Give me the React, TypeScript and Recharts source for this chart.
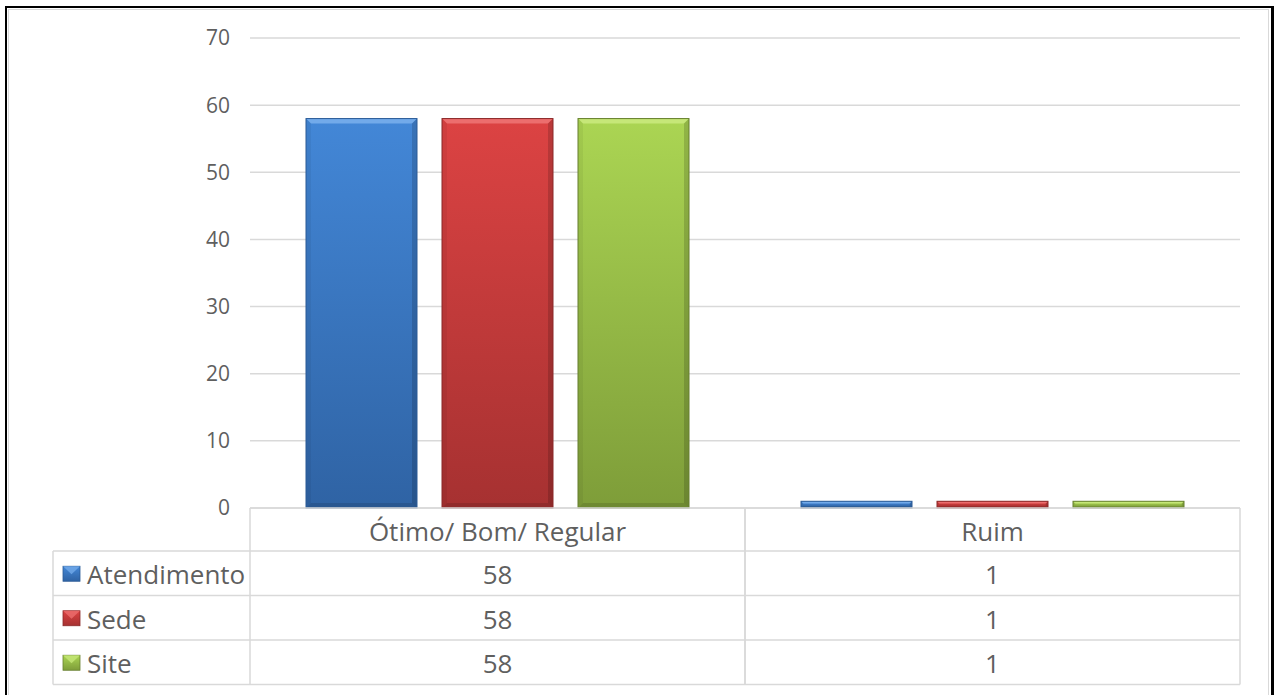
import React from 'react';
import { BarChart, Bar, XAxis, YAxis, CartesianGrid } from 'recharts';

// dados
const categories = ['Ótimo/ Bom/ Regular', 'Ruim'];
const atendimento = [58, 1];
const sede = [58, 1];
const site = [58, 1];
const yTicks = [0, 10, 20, 30, 40, 50, 60, 70];

const seriesList = [
  { key: 'atendimento', name: 'Atendimento', values: atendimento },
  { key: 'sede', name: 'Sede', values: sede },
  { key: 'site', name: 'Site', values: site },
];

const data = categories.map((cat, i) => ({
  cat,
  atendimento: atendimento[i],
  sede: sede[i],
  site: site[i],
}));

const W = 1276;
const H = 695;
const PLOT_LEFT = 250;
const PLOT_RIGHT = 1240;
const PLOT_TOP = 38;
const PLOT_BOTTOM = 508;
const HEADER_H = 43;
const ROW_H = 44.5;
const LEGEND_LEFT = 53;
const FONT = '"Open Sans", sans-serif';
const TEXT = '#5f5f5f';
const LINE = '#d9d9d9';

const palette: Record<string, { top: string; bottom: string; light: string; dark: string }> = {
  atendimento: { top: '#4387d7', bottom: '#2f63a4', light: '#72aaea', dark: '#2a5a96' },
  sede: { top: '#dc4343', bottom: '#a63131', light: '#ec6e6e', dark: '#8a2828' },
  site: { top: '#abd553', bottom: '#7e9d39', light: '#c6e778', dark: '#667f2e' },
};

const BevelBar = (props: any) => {
  const { x, y, width, height, seriesKey } = props;
  if (!height || height <= 0) return null;
  const c = palette[seriesKey];
  const b = Math.min(5, height / 3, width / 3);
  return (
    <g>
      <rect x={x} y={y} width={width} height={height} fill={`url(#grad-${seriesKey})`} />
      <polygon
        points={`${x},${y} ${x + width},${y} ${x + width - b},${y + b} ${x + b},${y + b}`}
        fill={c.light}
      />
      <polygon
        points={`${x},${y} ${x + b},${y + b} ${x + b},${y + height - b} ${x},${y + height}`}
        fill="rgba(0,0,0,0.05)"
      />
      <polygon
        points={`${x + width},${y} ${x + width - b},${y + b} ${x + width - b},${y + height - b} ${x + width},${y + height}`}
        fill="rgba(0,0,0,0.15)"
      />
      <polygon
        points={`${x},${y + height} ${x + b},${y + height - b} ${x + width - b},${y + height - b} ${x + width},${y + height}`}
        fill="rgba(0,0,0,0.12)"
      />
      <rect x={x} y={y} width={width} height={height} fill="none" stroke={c.dark} strokeWidth={1} />
    </g>
  );
};

// tabela de dados desenhada abaixo de cada categoria
const TableTick = (props: any) => {
  const { x, y, payload, index } = props;
  const band = (PLOT_RIGHT - PLOT_LEFT) / categories.length;
  const left = x - band / 2;
  const right = x + band / 2;
  const bottom = y + HEADER_H + ROW_H * seriesList.length;
  return (
    <g fontFamily={FONT} fill={TEXT}>
      <line x1={left} x2={right} y1={y} y2={y} stroke={LINE} strokeWidth={1.5} />
      <line x1={left} x2={left} y1={y} y2={bottom} stroke={LINE} strokeWidth={1.5} />
      <line x1={right} x2={right} y1={y} y2={bottom} stroke={LINE} strokeWidth={1.5} />
      <text x={x} y={y + HEADER_H / 2 + 1} textAnchor="middle" dominantBaseline="central" fontSize={26}>
        {payload.value}
      </text>
      {seriesList.map((s, r) => {
        const rowTop = y + HEADER_H + ROW_H * r;
        return (
          <g key={s.key}>
            <line x1={left} x2={right} y1={rowTop} y2={rowTop} stroke={LINE} strokeWidth={1.5} />
            <text x={x} y={rowTop + ROW_H / 2 + 1} textAnchor="middle" dominantBaseline="central" fontSize={26}>
              {s.values[index]}
            </text>
          </g>
        );
      })}
      <line x1={index === 0 ? LEGEND_LEFT : left} x2={right} y1={bottom} y2={bottom} stroke={LINE} strokeWidth={1.5} />
      {index === 0 && (
        <g>
          <line x1={LEGEND_LEFT} x2={LEGEND_LEFT} y1={y + HEADER_H} y2={bottom} stroke={LINE} strokeWidth={1.5} />
          {seriesList.map((s, r) => {
            const rowTop = y + HEADER_H + ROW_H * r;
            const c = palette[s.key];
            const ky = rowTop + ROW_H / 2 - 7;
            return (
              <g key={s.key}>
                <line x1={LEGEND_LEFT} x2={left} y1={rowTop} y2={rowTop} stroke={LINE} strokeWidth={1.5} />
                <rect x={LEGEND_LEFT + 10} y={ky} width={17} height={15} fill={`url(#grad-${s.key})`} stroke={c.dark} strokeWidth={0.8} />
                <polygon
                  points={`${LEGEND_LEFT + 10},${ky} ${LEGEND_LEFT + 27},${ky} ${LEGEND_LEFT + 18.5},${ky + 8}`}
                  fill={c.light}
                  opacity={0.8}
                />
                <text x={LEGEND_LEFT + 34} y={rowTop + ROW_H / 2 + 1} dominantBaseline="central" fontSize={26}>
                  {s.name}
                </text>
              </g>
            );
          })}
        </g>
      )}
    </g>
  );
};

export default function App() {
  return (
    <div style={{ position: 'absolute', left: 0, top: 0, width: W, height: H, overflow: 'hidden', background: '#fff' }}>
      {/* moldura externa */}
      <div
        style={{
          position: 'absolute',
          left: 5,
          top: 6,
          width: 1269,
          height: 720,
          boxSizing: 'border-box',
          borderLeft: '2px solid #000',
          borderTop: '2px solid #000',
          borderRight: '3px solid #000',
        }}
      />
      <div
        style={{
          position: 'absolute',
          left: 8,
          top: 9,
          width: 1261,
          height: 720,
          boxSizing: 'border-box',
          border: '1.5px solid #d9d9d9',
        }}
      />
      <div style={{ position: 'absolute', left: 0, top: 0 }}>
        <BarChart
          width={W}
          height={H}
          data={data}
          margin={{ top: PLOT_TOP, right: W - PLOT_RIGHT, left: 0, bottom: 0 }}
          barCategoryGap={56}
          barGap={25}
        >
          <defs>
            {Object.keys(palette).map((k) => (
              <linearGradient key={k} id={`grad-${k}`} x1="0" y1="0" x2="0" y2="1">
                <stop offset="0%" stopColor={palette[k].top} />
                <stop offset="100%" stopColor={palette[k].bottom} />
              </linearGradient>
            ))}
          </defs>
          <CartesianGrid horizontal vertical={false} stroke={LINE} strokeWidth={1.5} />
          <XAxis
            dataKey="cat"
            axisLine={false}
            tickLine={false}
            tickSize={0}
            tickMargin={0}
            height={H - PLOT_BOTTOM}
            interval={0}
            tick={<TableTick />}
          />
          <YAxis
            width={PLOT_LEFT}
            domain={[0, 70]}
            ticks={yTicks}
            axisLine={false}
            tickLine={false}
            tickMargin={14}
            tick={{ fill: TEXT, fontSize: 21, fontFamily: FONT }}
          />
          {seriesList.map((s) => (
            <Bar
              key={s.key}
              dataKey={s.key}
              name={s.name}
              isAnimationActive={false}
              shape={(p: any) => <BevelBar {...p} seriesKey={s.key} />}
            />
          ))}
        </BarChart>
      </div>
    </div>
  );
}
